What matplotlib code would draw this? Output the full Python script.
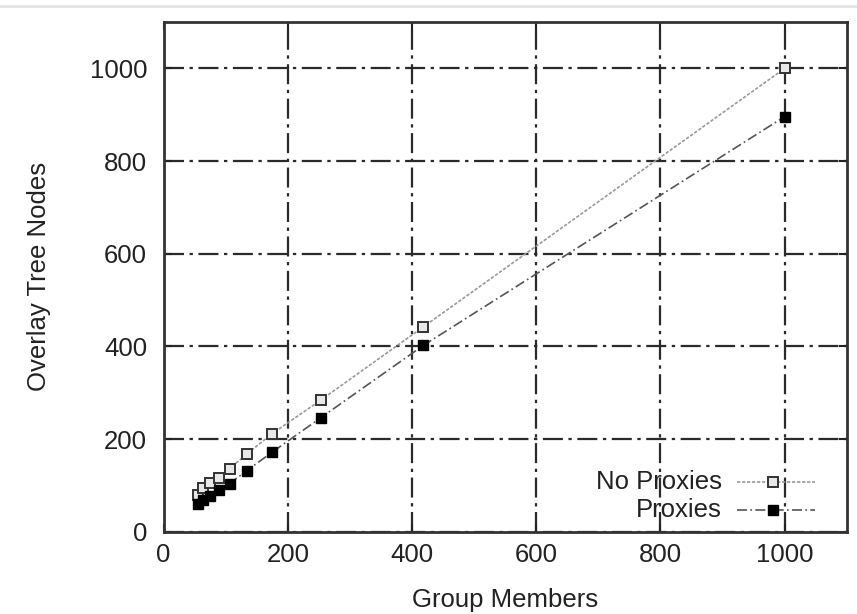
import matplotlib.pyplot as plt
from matplotlib.lines import Line2D

plt.rcParams['font.family'] = ['Liberation Sans', 'DejaVu Sans']

members = [55, 63, 74, 89, 106, 134, 175, 253, 418, 1000]
no_proxies = [80, 95, 105, 115, 136, 168, 212, 284, 442, 1000]
proxies = [60, 68, 78, 90, 104, 132, 172, 246, 402, 896]

xticks = [0, 200, 400, 600, 800, 1000]
yticks = [0, 200, 400, 600, 800, 1000]

fig = plt.figure(figsize=(8.57, 6.14), dpi=100)
ax = fig.add_axes([0.191, 0.134, 0.797, 0.83])

# thin rule across the top of the page
fig.add_artist(Line2D([0.0, 1.0], [0.99, 0.99], color='#e4e4e4', lw=2, transform=fig.transFigure))

open_sq = dict(color='#9a9a9a', ls=(0, (2, 1)), mfc='#e8e8e8', mec='#333333', mew=1.4, ms=7)
full_sq = dict(color='#555555', ls=(0, (6, 2, 1, 2)), mfc='black', mec='black', ms=7.5)

ax.plot(members, no_proxies, lw=1.2, marker='s', zorder=3, **open_sq)
ax.plot(members, proxies, lw=1.2, marker='s', zorder=3, **full_sq)

ax.set_xlim(0, 1100)
ax.set_ylim(0, 1100)
ax.set_xticks(xticks)
ax.set_yticks(yticks)
ax.tick_params(labelsize=18.5, length=6, direction='in', top=True, right=True, colors='#222222', width=1.5)
ax.tick_params(axis='x', pad=8)
ax.tick_params(axis='y', pad=12)

ax.grid(True, color='#2a2a2a', lw=1.6, ls=(0, (9, 2.5, 1.5, 2.5)))
for s in ax.spines.values():
    s.set_color('#333333')
    s.set_linewidth(2)

ax.set_xlabel('Group Members', fontsize=18.5, color='#222222', labelpad=15)
ax.set_ylabel('Overlay Tree Nodes', fontsize=18.5, color='#222222', labelpad=28)

# legend drawn gnuplot style: right aligned text then a sample
lab_x = 0.817
for yy, lab, kw in [(0.098, 'No Proxies', open_sq), (0.043, 'Proxies', full_sq)]:
    ax.text(lab_x, yy, lab, transform=ax.transAxes, ha='right', va='center', fontsize=18.5, color='#222222', zorder=5)
    ax.add_line(Line2D([0.84, 0.953], [yy, yy], transform=ax.transAxes, lw=1.2, color=kw['color'], ls=kw['ls']))
    ax.add_line(Line2D([0.892], [yy], transform=ax.transAxes, marker='s', ls='none',
                       mfc=kw['mfc'], mec=kw['mec'], mew=kw.get('mew', 1), ms=kw['ms']))

fig.savefig('out.png', dpi=100)
